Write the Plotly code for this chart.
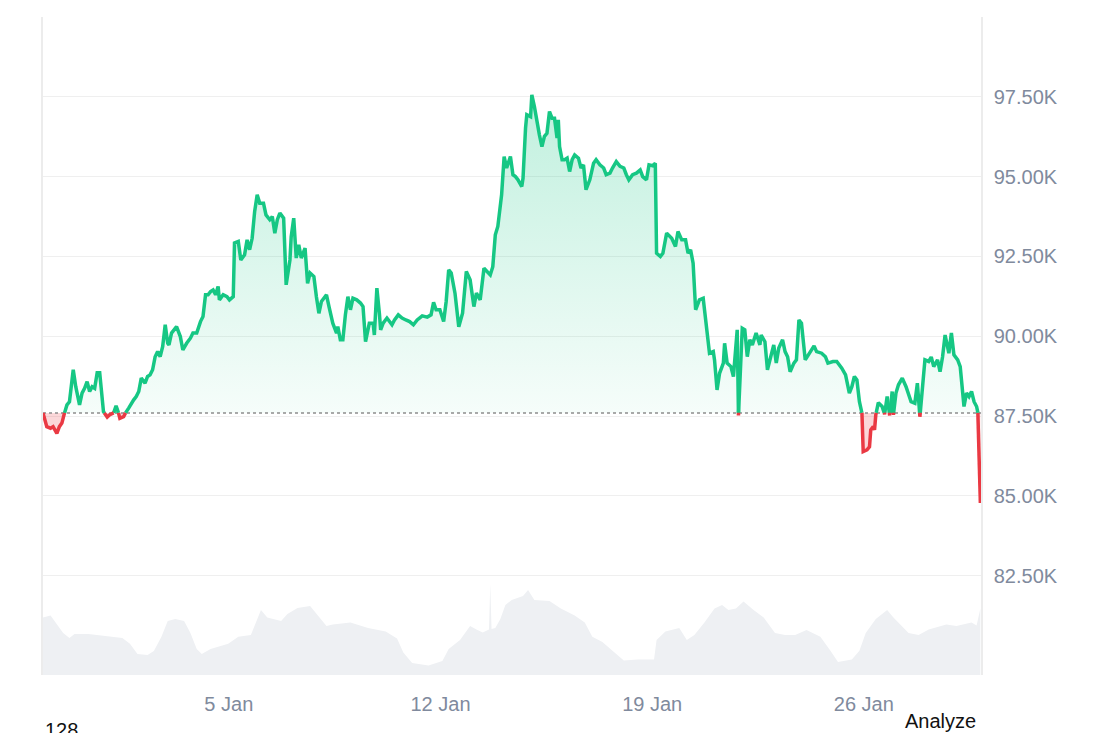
import numpy as np
import pandas as pd
import plotly.graph_objects as go

# ---------------- data ----------------
start_time = "2025-12-29 20:30"

price_hours = [
    0, 3, 6, 8, 11, 13, 15, 17, 19, 21,
    24, 26, 29, 31, 33, 35, 37, 39, 41, 43,
    45, 48, 51, 53, 56, 58, 60, 61, 64, 66,
    68, 72, 74, 76, 78, 81, 83, 85, 87, 89,
    91, 93, 95, 97, 99, 100, 102, 104, 106, 109,
    111, 114, 117, 119, 122, 125, 127, 129, 131, 133,
    135, 137, 139, 140, 143, 146, 148, 151, 152, 155,
    157, 160, 162, 164, 166, 168, 170, 172, 175, 177,
    180, 182, 184, 186, 188, 191, 193, 196, 197, 199,
    201, 203, 205, 208, 210, 212, 215, 217, 219, 221,
    225, 227, 230, 233, 234, 236, 238, 240, 242, 244,
    246, 249, 252, 254, 256, 259, 262, 263, 265, 267,
    268, 270, 273, 277, 279, 282, 285, 288, 291, 294,
    297, 301, 305, 308, 310, 312, 315, 318, 320, 322,
    324, 327, 330, 333, 336, 339, 342, 344, 347, 350,
    352, 355, 357, 359, 361, 363, 364, 366, 368, 371,
    373, 375, 377, 380, 381, 383, 384, 387, 388, 390,
    392, 394, 396, 398, 400, 402, 404, 406, 408, 409,
    410, 412, 414, 416, 418, 420, 422, 425, 427, 429,
    431, 434, 437, 439, 442, 445, 447, 450, 452, 455,
    458, 461, 463, 465, 468, 471, 474, 476, 479, 481,
    484, 486, 487, 490, 492, 495, 499, 502, 504, 507,
    510, 512, 514, 516, 518, 521, 524, 526, 529, 532,
    533, 535, 537, 540, 541, 543, 546, 548, 551, 552,
    553, 555, 557, 559, 561, 563, 566, 569, 570, 573,
    575, 578, 580, 582, 584, 587, 589, 591, 593, 596,
    598, 600, 602, 605, 608, 612, 614, 618, 621, 623,
    627, 630, 634, 637, 640, 642, 644, 646, 648, 650,
    651, 654, 656, 657, 659, 660, 661, 663, 666, 668,
    670, 672, 674, 675, 677, 679, 682, 685, 687, 689,
    692, 694, 696, 698, 700, 703, 705, 707, 710, 712,
    714, 716, 718, 719, 721, 723, 726, 728, 731, 733,
    735, 737, 739, 741, 742, 744,
]

prices = [
    87600, 87170, 87120, 87170, 86960, 87170, 87280, 87590, 87850, 87950,
    88950, 88420, 87850, 88220, 88370, 88580, 88270, 88420, 88370, 88860,
    88860, 87640, 87470, 87540, 87590, 87820, 87590, 87430, 87480, 87640,
    87750, 88010, 88110, 88270, 88690, 88530, 88740, 88790, 88950, 89360,
    89520, 89360, 89680, 90360, 89780, 89730, 90100, 90200, 90300, 89990,
    89570, 89780, 89940, 90100, 90100, 90460, 90620, 91300, 91300, 91400,
    91450, 91300, 91560, 91140, 91300, 91240, 91140, 91240, 92920, 92970,
    92390, 92550, 93020, 92710, 93070, 93910, 94430, 94170, 94170, 93800,
    93650, 93750, 93230, 93650, 93860, 93700, 91610, 92390, 93120, 93700,
    92450, 92860, 92450, 92760, 91660, 91980, 91870, 91240, 90720, 91090,
    91300, 90930, 90410, 90100, 90300, 89890, 89890, 90670, 91240, 90830,
    91190, 91140, 91040, 90930, 89830, 90410, 90410, 90040, 91510, 90720,
    90200, 90410, 90570, 90360, 90510, 90670, 90570, 90510, 90460, 90360,
    90510, 90640, 90600, 90670, 91060, 90830, 90830, 90460, 91090, 92080,
    91980, 91350, 90300, 90720, 92030, 91770, 90930, 91350, 91140, 92130,
    92030, 91920, 92180, 93180, 93440, 94060, 94430, 95630, 95270, 95630,
    95060, 95000, 94900, 94690, 94950, 96520, 96940, 96880, 97560, 97200,
    96680, 96310, 95940, 96260, 96360, 97040, 96830, 96830, 96210, 96780,
    95940, 95530, 95530, 95580, 95160, 95530, 95680, 95580, 95270, 95370,
    94590, 94900, 95420, 95530, 95370, 95270, 95060, 95110, 95270, 95470,
    95320, 95270, 95060, 94900, 95060, 95110, 95210, 95000, 94900, 95370,
    95340, 95420, 92600, 92500, 92600, 93230, 93070, 92810, 93280, 93020,
    93020, 92600, 92710, 92290, 90830, 91140, 91190, 90510, 89470, 89520,
    89260, 88320, 88840, 89160, 89780, 89160, 89050, 88740, 90200, 87520,
    88630, 90250, 90200, 89360, 89890, 89730, 90100, 89730, 90040, 89830,
    88950, 89360, 89730, 89160, 89630, 89890, 89520, 89360, 88890, 89160,
    89260, 90510, 90410, 89260, 89470, 89700, 89520, 89470, 89360, 89160,
    89210, 89210, 89000, 88790, 88220, 88420, 88740, 88630, 87950, 87590,
    86390, 86440, 86540, 87070, 87170, 87070, 87540, 87920, 87800, 87560,
    88110, 87520, 88270, 87540, 88220, 88480, 88690, 88420, 88220, 87950,
    87900, 88530, 87480, 88320, 89260, 89210, 89350, 89050, 89260, 88890,
    89360, 90040, 89680, 89470, 90100, 89420, 89260, 89050, 87800, 88220,
    88110, 88270, 87950, 87800, 87610, 84780,
]

volume_hours = [
    0, 6, 10, 16, 21, 25, 36, 49, 63, 69,
    75, 83, 88, 94, 99, 105, 112, 117, 122, 126,
    133, 147, 155, 165, 169, 173, 178, 189, 194, 202,
    212, 217, 225, 230, 244, 258, 272, 281, 286, 293,
    306, 317, 322, 331, 339, 344, 349, 354, 355, 356,
    359, 363, 367, 372, 381, 385, 390, 402, 411, 422,
    430, 436, 444, 452, 461, 472, 485, 487, 494, 505,
    511, 517, 525, 533, 539, 544, 550, 556, 564, 572,
    581, 589, 597, 606, 617, 625, 631, 642, 648, 653,
    661, 670, 675, 687, 695, 703, 717, 725, 737, 741,
    744,
]

volumes = [
    57.6, 59.4, 52.4, 42, 37, 41, 41, 39, 37, 31.3,
    21, 20, 24, 38.3, 54, 56, 54, 42, 26, 21,
    26, 31.3, 38.3, 40, 52.4, 65, 57.6, 54, 61.1, 67,
    69, 61, 49, 50.6, 52.4, 47, 43.6, 36.6, 22.5, 12,
    9.6, 14, 26, 35, 49, 45.4, 42.5, 45.4, 91, 46,
    47, 56, 70, 75, 79, 85, 75, 74, 66.4, 59.4,
    52.4, 38.3, 33, 24.3, 14.5, 15.5, 15.5, 35, 43.6, 47,
    35, 40, 52.4, 66.4, 70, 65, 66.4, 73.4, 65, 57.6,
    42, 40, 40, 45, 38.3, 24.3, 13, 15.5, 24.3, 42,
    56, 65, 57.6, 42, 40, 45.4, 50.6, 49, 52.4, 49.6,
    66.4,
]

tick_dates = ["2026-01-05", "2026-01-12", "2026-01-19", "2026-01-26"]
tick_labels = ["5 Jan", "12 Jan", "19 Jan", "26 Jan"]
price_ticks = [82500, 85000, 87500, 90000, 92500, 95000, 97500, 100000]
price_tick_labels = ["82.50K", "85.00K", "87.50K", "90.00K", "92.50K", "95.00K", "97.50K", ""]

# ---------------- processing ----------------
GREEN = "#16c784"
RED = "#ea3943"
t0 = pd.Timestamp(start_time)
n = min(len(price_hours), len(prices))
hrs = np.array(price_hours[:n], dtype=float)
val = np.array(prices[:n], dtype=float)
base = val[0]

# insert crossing points where the series crosses the opening price
H, V = [hrs[0]], [val[0]]
for i in range(1, n):
    a, b = val[i - 1] - base, val[i] - base
    if a * b < 0:
        f = a / (a - b)
        H.append(hrs[i - 1] + f * (hrs[i] - hrs[i - 1]))
        V.append(base)
    H.append(hrs[i])
    V.append(val[i])
H = np.array(H)
V = np.array(V)
T = t0 + pd.to_timedelta(H, unit="h")

up_line = np.where(V >= base, V, np.nan)
dn_line = np.where(V <= base, V, np.nan)
up_fill = np.maximum(V, base)
dn_fill = np.minimum(V, base)
base_arr = np.full(len(V), base)

vn = min(len(volume_hours), len(volumes))
VT = t0 + pd.to_timedelta(np.array(volume_hours[:vn], dtype=float), unit="h")

x_end = t0 + pd.to_timedelta(744.5, unit="h")

fig = go.Figure()

# volume (secondary axis)
fig.add_trace(go.Scatter(
    x=VT, y=volumes[:vn], yaxis="y2", mode="lines",
    line=dict(width=0, color="#eef0f3"), fill="tozeroy",
    fillcolor="#eef0f3", hoverinfo="skip", showlegend=False,
))

# green area
fig.add_trace(go.Scatter(x=T, y=base_arr, mode="lines", line=dict(width=0),
                         hoverinfo="skip", showlegend=False))
fig.add_trace(go.Scatter(
    x=T, y=up_fill, mode="lines", line=dict(width=0), fill="tonexty",
    fillgradient=dict(type="vertical",
                      colorscale=[[0, "rgba(22,199,132,0.04)"],
                                  [1, "rgba(22,199,132,0.27)"]]),
    hoverinfo="skip", showlegend=False,
))
# red area
fig.add_trace(go.Scatter(x=T, y=base_arr, mode="lines", line=dict(width=0),
                         hoverinfo="skip", showlegend=False))
fig.add_trace(go.Scatter(
    x=T, y=dn_fill, mode="lines", line=dict(width=0), fill="tonexty",
    fillcolor="rgba(234,57,67,0.2)", hoverinfo="skip", showlegend=False,
))

# baseline dotted
fig.add_trace(go.Scatter(
    x=[t0, x_end], y=[base, base], mode="lines",
    line=dict(color="#8d8d8d", width=1.5, dash="dot"),
    hoverinfo="skip", showlegend=False,
))

# price lines
fig.add_trace(go.Scatter(x=T, y=up_line, mode="lines",
                         line=dict(color=GREEN, width=3.5), connectgaps=False,
                         showlegend=False))
fig.add_trace(go.Scatter(x=T, y=dn_line, mode="lines",
                         line=dict(color=RED, width=3.5), connectgaps=False,
                         showlegend=False))

tickfont = dict(family="Liberation Sans, Arial, sans-serif", size=20, color="#808a9d")

fig.update_layout(
    width=1092, height=725,
    margin=dict(l=35, r=119, t=9, b=58),
    paper_bgcolor="white", plot_bgcolor="white",
    showlegend=False, hovermode=False,
    xaxis=dict(
        type="date", range=[t0, x_end],
        tickvals=tick_dates, ticktext=tick_labels,
        showgrid=False, zeroline=False, showline=False,
        ticks="", tickfont=tickfont, ticklabelstandoff=15,
    ),
    yaxis=dict(
        side="right", range=[79390, 100000],
        tickvals=price_ticks, ticktext=price_tick_labels,
        showgrid=True, gridcolor="#efefef", gridwidth=1.3,
        zeroline=False, showline=True, mirror=True,
        linecolor="#ececec", linewidth=1.5,
        ticks="", tickfont=tickfont, ticklabelstandoff=7,
    ),
    yaxis2=dict(
        overlaying="y", range=[0, 658], showgrid=False, zeroline=False,
        showticklabels=False, showline=False, side="left",
    ),
)

fig.add_annotation(text="128", xref="paper", yref="paper",
                   x=0.02, y=-0.064, xanchor="center", yanchor="top",
                   showarrow=False,
                   font=dict(family="Liberation Sans, Arial, sans-serif", size=20, color="#111111"))
fig.add_annotation(text="Analyze", xref="paper", yref="paper",
                   x=0.957, y=-0.07, xanchor="center", yanchor="middle",
                   showarrow=False,
                   font=dict(family="Liberation Sans, Arial, sans-serif", size=20, color="#111111"))

fig.write_html("out.html")
